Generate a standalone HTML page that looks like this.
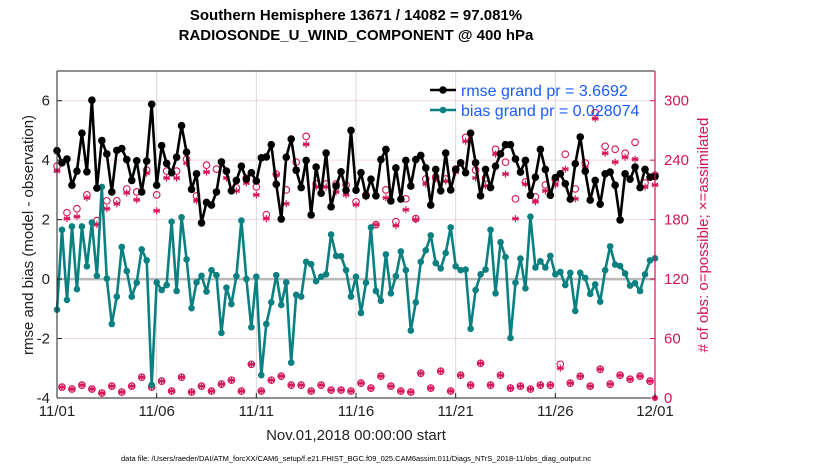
<!DOCTYPE html>
<html><head><meta charset="utf-8"><style>
body{margin:0;background:#fff;}
svg text{font-family:"Liberation Sans",Arial,sans-serif;}
</style></head><body>
<svg id="chart" width="830" height="470" xmlns="http://www.w3.org/2000/svg">
<rect width="830" height="470" fill="#fff"/>
<g id="grid"></g>
<g id="series"></g>
<g id="axes"></g>
</svg>
<script>
const rmse=[4.32,3.91,4.04,3.16,3.63,4.91,3.61,6.02,3.06,4.66,4.21,2.93,4.33,4.39,4.02,3.32,3.98,2.93,3.97,5.88,3.16,4.49,3.89,3.58,4.1,5.16,4.27,3.02,3.54,1.89,2.58,
2.49,2.93,3.94,3.63,2.97,3.32,3.8,3.36,3.58,3.3,4.08,4.11,4.52,3.19,2.02,4.1,4.71,3.66,3.08,3.99,2.16,3.77,2.89,4.24,2.43,3.13,3.61,2.99,5.0,2.99,
3.58,2.8,3.36,2.8,4.02,4.36,2.63,3.74,2.69,3.99,3.13,4.02,4.16,3.74,2.49,3.69,2.97,4.24,3.0,3.69,3.91,3.58,4.91,3.91,2.8,3.69,3.08,3.8,4.21,4.52,
4.52,4.04,3.6,3.99,2.82,3.43,4.36,3.69,2.82,3.41,3.54,3.21,2.69,3.88,4.78,3.63,2.66,3.32,2.52,3.54,3.6,3.16,1.99,3.54,3.36,3.77,3.08,3.69,3.43,3.45];
const bias=[-1.03,1.66,-0.7,1.77,-0.34,1.77,0.43,1.9,0.11,3.1,0.02,-1.51,-0.59,1.08,0.27,-0.59,-0.12,1.0,0.63,-3.56,-0.11,-0.37,-0.2,1.93,-0.4,2.08,0.66,-0.98,-0.11,0.11,-0.42,0.3,0.13,-1.81,-0.29,-0.84,0.1,1.97,0,-1.62,0.08,-3.23,-1.51,-0.78,0.13,-0.87,-0.11,-2.81,-0.53,-0.59,0.58,0.5,-0.07,0.08,0.16,1.5,0.78,0.77,0.3,-0.59,0.08,-1.14,-0.12,1.74,-0.4,-0.73,0.83,-0.48,0.1,0.93,0.3,-1.73,-0.78,0.58,0.97,1.47,0.54,0.36,0.88,1.74,0.43,0.3,0.32,-1.67,-0.37,0.16,0.32,1.66,-0.48,1.24,0.74,-1.98,-0.12,0.69,-0.31,2.1,0.39,0.6,0.39,0.78,0.16,0.24,-0.2,0.21,-1.07,0.21,0.04,-0.5,-0.18,-0.76,0.3,1.1,0.49,0.44,0.19,-0.22,-0.14,-0.4,0.16,0.63,0.7];
const obsPossible=[234,11,187,9,191,13,205,9,179,5,199,12,199,6,211,12,208,21,230,11,205,17,229,7,229,21,241,6,204,12,235,7,231,14,229,18,212,7,222,34,213,7,185,18,226,22,210,13,238,13,264,7,216,13,216,8,216,8,215,7,198,15,205,10,175,22,210,12,178,7,201,6,181,25,221,10,223,27,221,7,231,23,263,13,230,35,222,13,251,23,238,10,201,12,218,9,203,13,215,13,220,34,246,15,211,22,237,12,288,29,254,14,251,23,247,19,258,22,217,17,225];
const obsAssim=[229,11,181,9,183,13,202,9,175,5,191,12,196,6,207,12,200,21,227,11,189,17,222,7,222,21,237,6,199,12,228,7,208,14,222,18,209,7,217,34,205,7,181,18,225,22,196,13,231,13,256,7,213,13,213,8,208,8,205,7,195,15,203,10,175,22,202,12,174,7,190,6,180,25,216,10,221,27,219,7,228,23,259,13,222,35,214,13,246,23,226,10,181,12,216,9,198,13,209,13,215,30,231,15,201,22,233,12,282,29,247,14,238,23,243,19,241,22,213,17,215];
const xTickLabels=["11/01","11/06","11/11","11/16","11/21","11/26","12/01"];
const yLeftTicks=[-4,-2,0,2,4,6];
const yRightTicks=[0,60,120,180,240,300];

const NS="http://www.w3.org/2000/svg";
const X0=57,X1=655,YT=71,YB=398;
const xs=i=>X0+(X1-X0)*i/120;
const yl=v=>YB-(v+4)/11*(YB-YT);
const yr=v=>YB-v/330*(YB-YT);
const MAG="#d6145a",TEAL="#0a8080";
function mk(tag,attrs,parent){const e=document.createElementNS(NS,tag);for(const k in attrs)e.setAttribute(k,attrs[k]);parent.appendChild(e);return e;}
const grid=document.getElementById('grid'),ser=document.getElementById('series'),ax=document.getElementById('axes');

yRightTicks.forEach(v=>{const l=mk('line',{x1:X0,x2:X1,y1:yr(v),y2:yr(v),stroke:'#f0d6df','stroke-width':1},grid);

});
xTickLabels.forEach((t,k)=>{const x=X0+(X1-X0)*k/6;const l=mk('line',{x1:x,x2:x,y1:YT,y2:YB,stroke:'#d8d8d8','stroke-width':1},grid);

});
const zl=mk('line',{x1:X0,x2:X1,y1:yl(0),y2:yl(0),stroke:'#b8b8b8','stroke-width':2.5},grid);



function star(x,y,g){const r=3.5;for(let a=0;a<3;a++){const t=a*Math.PI/3+Math.PI/2;mk('line',{x1:x-r*Math.cos(t),y1:y-r*Math.sin(t),x2:x+r*Math.cos(t),y2:y+r*Math.sin(t),stroke:MAG,'stroke-width':1.2},g);}mk('line',{x1:x-r,y1:y,x2:x+r,y2:y,stroke:MAG,'stroke-width':1.2},g);}
obsPossible.forEach((v,i)=>{const c=mk('circle',{cx:xs(i),cy:yr(v),r:3.3,fill:'none',stroke:MAG,'stroke-width':1.1},ser);

});
obsAssim.forEach((v,i)=>{const g=mk('g',{},ser);


star(xs(i),yr(v),g);});
const endDot=mk('circle',{cx:X1,cy:YB,r:3,fill:MAG},ser);



function line(arr,col,name,r){const p=arr.map((v,i)=>xs(i).toFixed(1)+','+yl(v).toFixed(1)).join(' ');
const pl=mk('polyline',{points:p,fill:'none',stroke:col,'stroke-width':2.6,'stroke-linejoin':'round'},ser);


arr.forEach((v,i)=>{const c=mk('circle',{cx:xs(i),cy:yl(v),r:r,fill:col},ser);

});}
line(bias,TEAL,'bias',3.3);
line(rmse,'#000','rmse',3.8);

const la=mk('line',{x1:X0,x2:X0,y1:YT,y2:YB,stroke:'#222','stroke-width':1},ax);

const ta=mk('line',{x1:X0,x2:X1,y1:YT,y2:YT,stroke:'#222','stroke-width':1},ax);

const ba=mk('line',{x1:X0,x2:X1,y1:YB,y2:YB,stroke:'#222','stroke-width':1},ax);

const ra=mk('line',{x1:X1,x2:X1,y1:YT,y2:YB,stroke:MAG,'stroke-width':1.2},ax);

yLeftTicks.forEach(v=>{mk('line',{x1:X0,x2:X0+5,y1:yl(v),y2:yl(v),stroke:'#222'},ax);
const t=mk('text',{x:X0-7,y:yl(v)+5,'text-anchor':'end','font-size':15,fill:'#222'},ax);t.textContent=v;

});
yRightTicks.forEach(v=>{mk('line',{x1:X1-5,x2:X1,y1:yr(v),y2:yr(v),stroke:MAG},ax);
const t=mk('text',{x:X1+9,y:yr(v)+5,'font-size':15,fill:MAG},ax);t.textContent=v;

});
xTickLabels.forEach((s,k)=>{const x=X0+(X1-X0)*k/6;mk('line',{x1:x,x2:x,y1:YB-5,y2:YB,stroke:'#222'},ax);
const t=mk('text',{x:x,y:416,'text-anchor':'middle','font-size':15,fill:'#222'},ax);t.textContent=s;

});
</script>
<svg width="830" height="470" style="position:absolute;left:0;top:0" xmlns="http://www.w3.org/2000/svg">
<text x="356" y="20" text-anchor="middle" font-size="15" font-weight="bold" fill="#000">Southern Hemisphere 13671 / 14082 = 97.081%</text>
<text x="356" y="40" text-anchor="middle" font-size="15" font-weight="bold" fill="#000">RADIOSONDE_U_WIND_COMPONENT @ 400 hPa</text>
<text transform="translate(33,235) rotate(-90)" text-anchor="middle" font-size="15" fill="#222">rmse and bias (model - observation)</text>
<text transform="translate(708,235) rotate(-90)" text-anchor="middle" font-size="15" fill="#d6145a"># of obs: o=possible; ×=assimilated</text>
<text x="356" y="440" text-anchor="middle" font-size="15" fill="#222">Nov.01,2018 00:00:00 start</text>
<text x="356" y="461" text-anchor="middle" font-size="7.5" fill="#000">data file: /Users/raeder/DAI/ATM_forcXX/CAM6_setup/f.e21.FHIST_BGC.f09_025.CAM6assim.011/Diags_NTrS_2018-11/obs_diag_output.nc</text>
<g>
<line x1="430" x2="456" y1="90" y2="90" stroke="#000" stroke-width="2.6"/><circle cx="443" cy="90" r="3.8" fill="#000"/>
<text x="461" y="96" font-size="16" fill="#1a5cff">rmse grand pr = 3.6692</text>
<line x1="430" x2="456" y1="110" y2="110" stroke="#0a8080" stroke-width="2.6"/><circle cx="443" cy="110" r="3.3" fill="#0a8080"/>
<text x="461" y="116" font-size="16" fill="#1a5cff">bias grand pr = 0.028074</text>
</g>
</svg>
</body></html>
